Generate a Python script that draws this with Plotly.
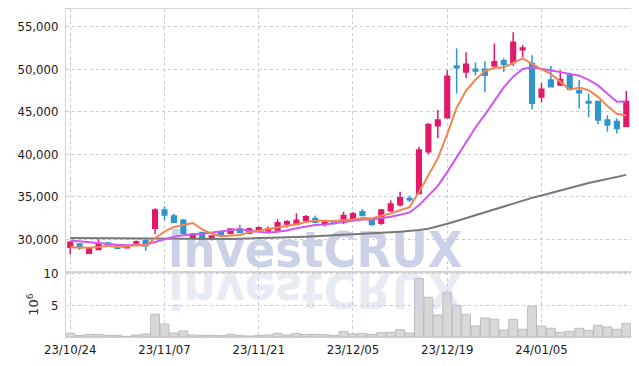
import plotly.graph_objects as go
from plotly.subplots import make_subplots

dates = [
    "23/10/24", "23/10/25", "23/10/26", "23/10/27", "23/10/30", "23/10/31",
    "23/11/01", "23/11/02", "23/11/03", "23/11/06", "23/11/07", "23/11/08",
    "23/11/09", "23/11/10", "23/11/13", "23/11/14", "23/11/15", "23/11/16",
    "23/11/17", "23/11/20", "23/11/21", "23/11/22", "23/11/23", "23/11/24",
    "23/11/27", "23/11/28", "23/11/29", "23/11/30", "23/12/01", "23/12/04",
    "23/12/05", "23/12/06", "23/12/07", "23/12/08", "23/12/11", "23/12/12",
    "23/12/13", "23/12/14", "23/12/15", "23/12/18", "23/12/19", "23/12/20",
    "23/12/21", "23/12/22", "23/12/26", "23/12/27", "23/12/28", "24/01/02",
    "24/01/03", "24/01/04", "24/01/05", "24/01/08", "24/01/09", "24/01/10",
    "24/01/11", "24/01/12", "24/01/15", "24/01/16", "24/01/17", "24/01/18",
]

open_ = [
    29050, 29450, 28350, 28800, 29550, 29200, 29000, 29550, 29850, 31300,
    33450, 32750, 32250, 30100, 30800, 30000, 30900, 30700, 31200, 30700,
    31100, 31000, 31100, 31800, 31750, 32250, 32450, 31900, 32000, 32000,
    32450, 33250, 32400, 31900, 33350, 34050, 34800, 35400, 40300, 43350,
    44300, 50400, 49700, 50000, 50000, 50400, 51000, 50800, 52300, 50700,
    46750, 48750, 48150, 49300, 47500, 46200, 46200, 44050, 43850, 43300,
]
high = [
    29750, 29550, 29100, 30000, 29600, 29250, 29350, 29850, 29900, 33650,
    33900, 33000, 32400, 30700, 30850, 30450, 31000, 31300, 31700, 31350,
    31500, 31500, 32350, 32250, 33050, 32850, 32800, 32250, 32200, 33250,
    33200, 33550, 32500, 33550, 34600, 35600, 35150, 40900, 43650, 45200,
    49900, 52450, 52000, 50800, 50950, 53050, 51300, 54350, 52850, 51650,
    48350, 50400, 49900, 49600, 48750, 47150, 46250, 44600, 44250, 47450,
]
low = [
    28250, 28750, 28300, 28750, 29100, 28850, 28900, 29250, 28650, 30600,
    32250, 31900, 30600, 30000, 29400, 29850, 30450, 30650, 30700, 30600,
    30900, 30800, 31000, 31400, 31700, 32200, 31900, 31500, 31700, 31800,
    32250, 32750, 31600, 31700, 33200, 33850, 34400, 35300, 40050, 41900,
    44250, 47150, 48950, 49300, 47300, 50300, 49700, 50400, 51450, 45300,
    46100, 47850, 48050, 47550, 45400, 44400, 43550, 42650, 42450, 43250,
]
close = [
    29650, 29000, 29000, 29350, 29200, 28950, 29250, 29700, 29250, 33450,
    32850, 32000, 30700, 30600, 29650, 30400, 30500, 31200, 30800, 31200,
    31350, 31250, 31950, 32050, 32250, 32650, 32000, 32000, 31900, 32800,
    33000, 32800, 31750, 33450, 34150, 34900, 34650, 40500, 43500, 44050,
    49200, 50200, 50600, 49800, 49300, 50900, 50600, 53200, 52500, 46000,
    47650, 47950, 48800, 47650, 47250, 46050, 44050, 43450, 43050, 46200,
]

ma5 = [
    29050, 29000, 29000, 29100, 29240, 29100, 29150, 29290, 29270, 30120,
    30900, 31450, 31650, 31920, 31160, 30670, 30370, 30470, 30510, 30820,
    31010, 31160, 31310, 31560, 31770, 32030, 32180, 32190, 32160, 32270,
    32340, 32500, 32450, 32760, 33030, 33410, 33780, 35530, 37540, 39520,
    42380, 45490, 47510, 48770, 49820, 50160, 50240, 50760, 51300, 50640,
    49990, 49460, 48580, 47610, 47860, 47540, 46760, 45690, 44770, 44560,
]
ma10 = [
    29850, 29750, 29600, 29500, 29400, 29350, 29300, 29300, 29350, 29680,
    30000, 30300, 30470, 30600, 30640, 30790, 30910, 31060, 31220, 30990,
    30840, 30770, 30890, 31040, 31300, 31520, 31670, 31750, 31860, 32020,
    32190, 32340, 32320, 32460, 32650, 32880, 33140, 33990, 35150, 36280,
    37900, 39640, 41520, 43160, 44670, 46270, 47870, 49140, 50040, 50230,
    50080, 49850, 49670, 49460, 49250, 48770, 48110, 47140, 46190, 46210,
]
ma60 = [
    30150, 30140, 30130, 30120, 30110, 30100, 30090, 30080, 30070, 30060,
    30050, 30040, 30030, 30020, 30020, 30020, 30030, 30040, 30060, 30080,
    30100, 30130, 30170, 30210, 30260, 30310, 30360, 30410, 30460, 30520,
    30580, 30640, 30700, 30760, 30830, 30900, 30980, 31080, 31250, 31500,
    31820, 32160, 32500, 32830, 33150, 33500, 33840, 34230, 34600, 34870,
    35160, 35460, 35780, 36070, 36360, 36630, 36860, 37090, 37310, 37580,
]
volume_m = [
    0.58, 0.26, 0.42, 0.42, 0.26, 0.26, 0.11, 0.32, 0.48, 3.60,
    2.06, 0.63, 0.95, 0.32, 0.26, 0.26, 0.21, 0.42, 0.26, 0.16,
    0.26, 0.32, 0.58, 0.32, 0.58, 0.42, 0.42, 0.37, 0.26, 0.85,
    0.48, 0.58, 0.42, 0.69, 0.74, 1.16, 0.63, 9.26, 6.30, 3.49,
    7.09, 5.03, 3.60, 1.75, 3.02, 2.80, 1.11, 2.80, 1.22, 4.87,
    1.75, 1.38, 0.74, 0.90, 1.38, 1.06, 1.85, 1.59, 1.22, 2.17,
]

tick_dates = ["23/10/24", "23/11/07", "23/11/21", "23/12/05", "23/12/19", "24/01/05"]
price_ticks = [30000, 35000, 40000, 45000, 50000, 55000]
volume_ticks = [5, 10]

UP = "#e2196b"
DOWN = "#2e96c9"
GRID = "#c6cbe0"
FRAME = "#d2d2d2"
TICKFONT = dict(family="DejaVu Sans Condensed, Liberation Sans Narrow, sans-serif",
                size=13, color="#1a1a1a")

fig = make_subplots(rows=2, cols=1, shared_xaxes=True, vertical_spacing=0)

# watermark (drawn first so that marks sit above it)
fig.add_trace(go.Scatter(
    x=[dates[26]], y=[28250], mode="text", text=["<b>investCRUX</b>"],
    textposition="middle center",
    textfont=dict(family="DejaVu Sans Condensed, Liberation Sans Narrow, sans-serif",
                  size=50, color="#cbd2e7"),
    hoverinfo="skip", showlegend=False, cliponaxis=True,
), row=1, col=1)

fig.add_trace(go.Candlestick(
    x=dates, open=open_, high=high, low=low, close=close,
    increasing=dict(line=dict(color=UP, width=1.5), fillcolor=UP),
    decreasing=dict(line=dict(color=DOWN, width=1.5), fillcolor=DOWN),
    whiskerwidth=0, showlegend=False,
), row=1, col=1)

fig.add_trace(go.Scatter(x=dates, y=ma60, mode="lines",
                         line=dict(color="#787878", width=2), showlegend=False), row=1, col=1)
fig.add_trace(go.Scatter(x=dates, y=ma10, mode="lines",
                         line=dict(color="#cc58ee", width=2), showlegend=False), row=1, col=1)
fig.add_trace(go.Scatter(x=dates, y=ma5, mode="lines",
                         line=dict(color="#f08750", width=2), showlegend=False), row=1, col=1)

fig.add_trace(go.Bar(x=dates, y=volume_m, marker=dict(color="#d8d8d8",
                     line=dict(color="#bcbcbc", width=1)), showlegend=False), row=2, col=1)

xcommon = dict(type="category", categoryorder="array", categoryarray=dates,
               range=[-0.45, 59.5], tickvals=tick_dates, ticktext=tick_dates,
               showgrid=True, gridcolor=GRID, griddash="dot", gridwidth=1,
               showline=True, linecolor=FRAME, linewidth=1, mirror=True, ticks="",
               automargin=False, rangeslider=dict(visible=False))
fig.update_xaxes(**xcommon)
fig.update_xaxes(showticklabels=False, row=1, col=1)
fig.update_xaxes(showticklabels=True, tickfont=TICKFONT, row=2, col=1)

# the page body adds an 8px offset, so the figure is 8px smaller than the window
fig.update_layout(
    width=631, height=358,
    margin=dict(l=58, r=8, t=1, b=29, autoexpand=False),
    paper_bgcolor="white", plot_bgcolor="white",
    bargap=0.06,
    showlegend=False,
    yaxis=dict(domain=[0.1982, 1.0], range=[26150, 57100], tickvals=price_ticks,
               tickformat=",", tickfont=TICKFONT, showgrid=True, gridcolor=GRID,
               griddash="dot", zeroline=False, showline=True, linecolor=FRAME,
               mirror=True, ticks="", ticklabelstandoff=4, automargin=False),
    yaxis2=dict(domain=[0.0, 0.1982], range=[0, 10.3], tickvals=volume_ticks,
                tickfont=TICKFONT, showgrid=True, gridcolor=GRID, griddash="dot",
                zeroline=False, showline=True, linecolor=FRAME, mirror=True, ticks="",
                ticklabelstandoff=4, automargin=False,
                title=dict(text="10<sup>6</sup>", standoff=1,
                           font=dict(family="DejaVu Sans, sans-serif", size=13, color="#333"))),
)

# faint mirrored reflection of the watermark text below the price panel
reflection_js = """
(function(){
  var tries = 0;
  function addReflection(){
    var gd = document.getElementById('{plot_id}');
    var t = gd ? gd.querySelector('.textpoint text') : null;
    if(!t){ if(tries++ < 40){ setTimeout(addReflection, 50); } return; }
    if(gd.querySelector('.wm-reflection')) return;
    var svg = gd.querySelector('.main-svg');
    var m = t.getCTM();
    var bb = t.getBBox();
    var yb = bb.y + bb.height * 0.80 + 3;
    var c = t.cloneNode(true);
    c.setAttribute('class', 'wm-reflection');
    c.setAttribute('transform', 'matrix(' + [m.a, m.b, m.c, m.d, m.e, m.f].join(',') + ') translate(0,' + (2 * yb) + ') scale(1,-1)');
    c.style.fill = 'rgb(200,208,230)';
    c.style.opacity = '0.42';
    svg.appendChild(c);
  }
  addReflection();
})();
"""

fig.write_html("out.html", post_script=reflection_js)
